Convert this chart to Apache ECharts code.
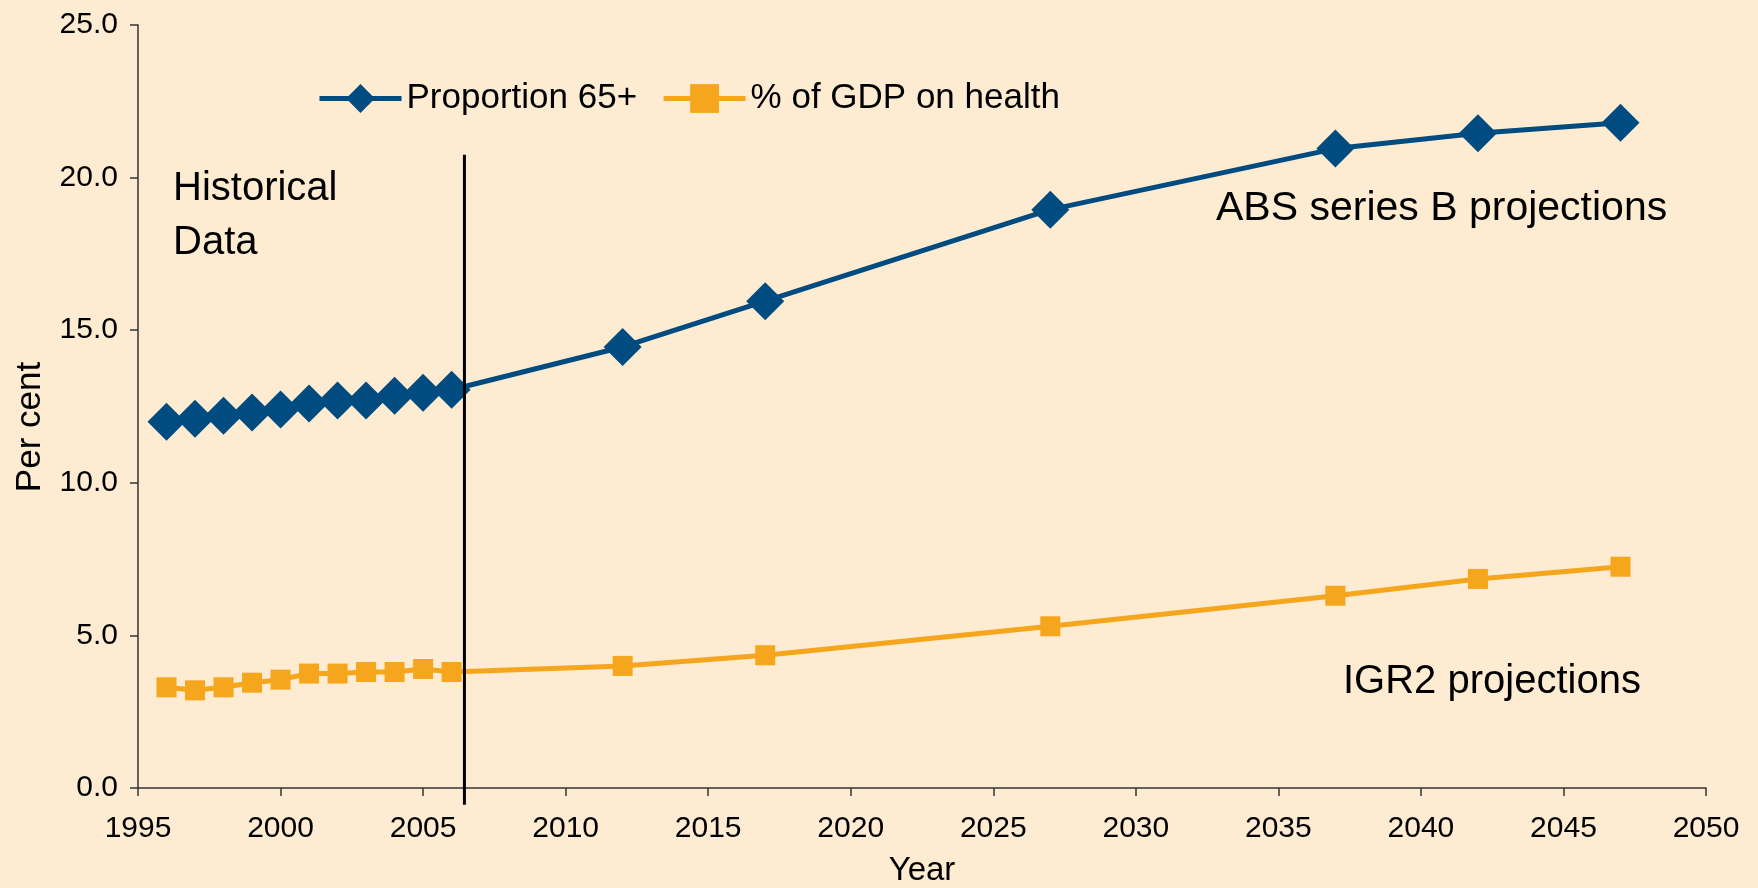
<!DOCTYPE html>
<html>
<head>
<meta charset="utf-8">
<script src="https://cdn.jsdelivr.net/npm/echarts@6/dist/echarts.min.js"></script>
<style>
	html, body { margin: 0; padding: 0; background: #FDEBD2; }
	#main { width: 1758px; height: 888px; }
</style>
</head>
<body>
<div id="main"></div>
<script>
	// values
	const years = [1996, 1997, 1998, 1999, 2000, 2001, 2002, 2003, 2004, 2005, 2006, 2012, 2017, 2027, 2037, 2042, 2047];
	const proportion65 = [12.0, 12.1, 12.2, 12.3, 12.4, 12.6, 12.7, 12.7, 12.85, 12.95, 13.05, 14.45, 15.95, 18.95, 20.95, 21.45, 21.8];
	const gdpHealth = [3.3, 3.2, 3.3, 3.45, 3.55, 3.75, 3.75, 3.8, 3.8, 3.9, 3.8, 4.0, 4.35, 5.3, 6.3, 6.85, 7.25];
	// historical / projection divider
	const dividerYear = 2006.45;
	const dividerRange = [20.75, -0.55];

	const font = "'Liberation Sans', Arial, sans-serif";
	const blue = '#004B80';
	const orange = '#F6A61C';

	function pairs(xs, ys) {
		let out = [];
		for (let i in xs) {
			out.push([xs[i], ys[i]]);
		}
		return out;
	}

	const myChart = echarts.init(document.getElementById('main'));

	const option = {
		backgroundColor: '#FDEBD2',
		animation: false,
		textStyle: { fontFamily: font, color: '#000' },
		grid: {
			left: 138,
			right: 52,
			top: 25,
			bottom: 100,
			containLabel: false,
			outerBoundsMode: 'none'
		},
		legend: {
			left: 312,
			top: 76,
			itemWidth: 82,
			itemHeight: 36,
			itemGap: 24,
			data: ['Proportion 65+', '% of GDP on health'],
			lineStyle: { width: 5 },
			textStyle: { fontFamily: font, fontSize: 35, color: '#000' }
		},
		xAxis: {
			type: 'value',
			min: 1995,
			max: 2050,
			interval: 5,
			name: 'Year',
			nameLocation: 'middle',
			nameGap: 66,
			nameTextStyle: { fontFamily: font, fontSize: 33, color: '#000' },
			splitLine: { show: false },
			axisLine: { onZero: false, lineStyle: { color: '#333', width: 1.5 } },
			axisTick: { length: 8, lineStyle: { color: '#333', width: 1.5 } },
			axisLabel: {
				fontFamily: font, fontSize: 30, color: '#000', margin: 26,
				formatter: function (v) { return String(v); }
			}
		},
		yAxis: {
			type: 'value',
			min: 0,
			max: 25,
			interval: 5,
			splitLine: { show: false },
			axisLine: { show: true, lineStyle: { color: '#333', width: 1.5 } },
			axisTick: { show: true, length: 8, lineStyle: { color: '#333', width: 1.5 } },
			axisLabel: {
				fontFamily: font, fontSize: 30, color: '#000', margin: 20,
				formatter: function (v) { return v.toFixed(1); }
			}
		},
		graphic: [
			{
				type: 'text', x: 30, y: 427, rotation: Math.PI / 2,
				style: { text: 'Per cent', font: '35px ' + font, fill: '#000', textAlign: 'center', textVerticalAlign: 'middle' }
			},
			{
				type: 'text', left: 173, top: 162,
				style: { text: 'Historical\nData', font: '40px ' + font, fill: '#000', lineHeight: 54 }
			},
			{
				type: 'text', left: 1216, top: 188,
				style: { text: 'ABS series B projections', font: '41px ' + font, fill: '#000' }
			},
			{
				type: 'text', left: 1343, top: 662,
				style: { text: 'IGR2 projections', font: '40px ' + font, fill: '#000' }
			}
		],
		series: [
			{
				name: 'Proportion 65+',
				type: 'line',
				data: pairs(years, proportion65),
				symbol: 'diamond',
				symbolSize: 38,
				lineStyle: { width: 5, color: blue },
				itemStyle: { color: blue },
				z: 3
			},
			{
				name: '% of GDP on health',
				type: 'line',
				data: pairs(years, gdpHealth),
				symbol: 'rect',
				symbolSize: 20,
				lineStyle: { width: 5, color: orange },
				itemStyle: { color: orange },
				z: 3
			},
			{
				name: 'divider',
				type: 'line',
				data: [[dividerYear, dividerRange[0]], [dividerYear, dividerRange[1]]],
				showSymbol: false,
				symbol: 'none',
				clip: false,
				lineStyle: { width: 3, color: '#000' },
				z: 4
			}
		]
	};

	option && myChart.setOption(option);
</script>
</body>
</html>
